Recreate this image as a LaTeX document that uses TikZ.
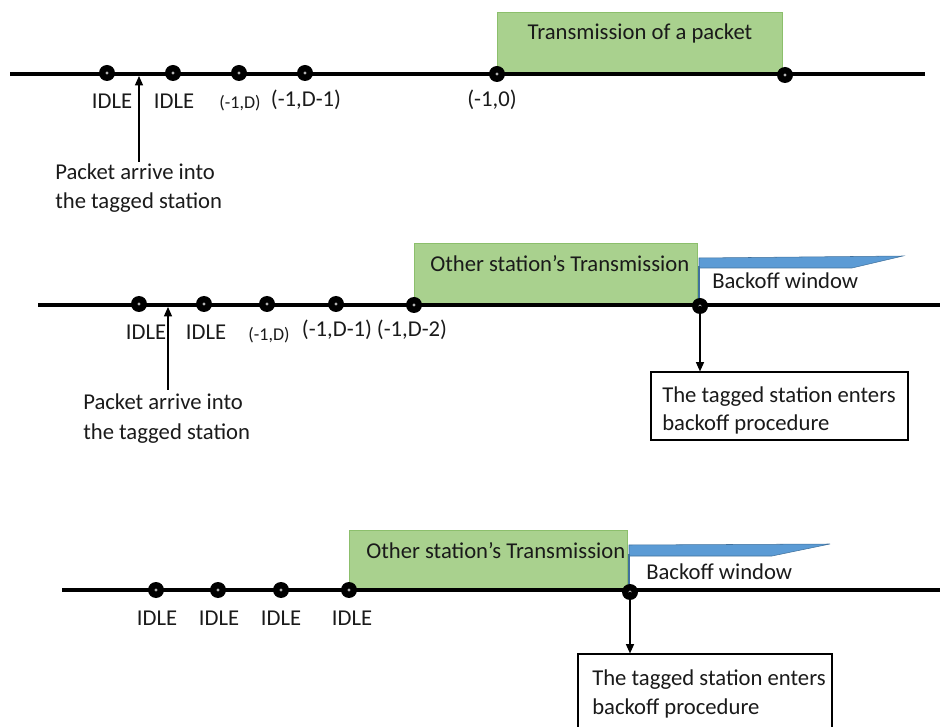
\documentclass[tikz,border=0pt]{standalone}
\usepackage{fontspec}
\setmainfont{Carlito}
\usetikzlibrary{fit,arrows.meta}
\definecolor{gfill}{HTML}{A9D18E}
\definecolor{gdraw}{HTML}{8CBF6C}
\definecolor{bfill}{HTML}{5B9BD5}
\definecolor{bdraw}{HTML}{41719C}
\definecolor{txt}{HTML}{1A1A1A}
\tikzset{
  timeline/.style={line width=3.4pt},
  dotmark/.style={circle, fill=black, minimum size=12pt, inner sep=0pt,
    path picture={\fill[gray!60] (path picture bounding box.center) circle (1.2pt);}},
  lbl/.style={anchor=base, font=\fontsize{17}{20}\selectfont, text=txt, inner sep=0pt},
  slbl/.style={anchor=base, font=\fontsize{13.5}{16}\selectfont, text=txt, inner sep=0pt},
  ltxt/.style={anchor=base west, font=\fontsize{17}{20}\selectfont, text=txt, inner sep=0pt},
  greenbox/.style={draw=gdraw, fill=gfill, line width=0.6pt, inner sep=0pt},
  wbox/.style={draw=black, line width=0.8pt, inner sep=0pt, fill=white},
  arr/.style={-{Triangle[length=7pt,width=6pt]}, line width=1pt},
  wedge/.style={fill=bfill, draw=bdraw, line width=0.4pt},
}
\begin{document}
\begin{tikzpicture}[x=0.75pt,y=-0.75pt]
\useasboundingbox (0,0) rectangle (940,727);
\clip (0,0) rectangle (940,727);

%% ---------------- Panel 1 ----------------
\node[greenbox, fit={(497,12) (782,73)}] (tx1) {};
\node[ltxt, anchor=base] (tx1t) at (640,40) {Transmission of a packet};
\draw[timeline] (10,74) -- (925,74);
\node[dotmark] (p1a) at (107,73) {};
\node[dotmark] (p1b) at (173,73) {};
\node[dotmark] (p1c) at (239,73) {};
\node[dotmark] (p1d) at (305,73) {};
\node[dotmark] (p1e) at (497,74) {};
\node[dotmark] (p1f) at (785,75) {};
\node[lbl] (l1a) at (112,109) {IDLE};
\node[lbl] (l1b) at (174,109) {IDLE};
\node[slbl] (l1c) at (240,109) {(-1,D)};
\node[lbl] (l1d) at (306,107) {(-1,D-1)};
\node[lbl] (l1e) at (492,107) {(-1,0)};
\coordinate (a1top) at (139,76);
\coordinate (a1bot) at (139,162);
\draw[arr] (a1bot) -- (a1top);
\node[ltxt] (pk1a) at (55,180) {Packet arrive into};
\node[ltxt] (pk1b) at (55,209) {the tagged station};

%% ---------------- Panel 2 ----------------
\node[greenbox, fit={(414,243) (697,304)}] (tx2) {};
\node[ltxt] (tx2t) at (430,272) {Other station’s Transmission};
\fill[wedge] (699,258) -- (903,256) -- (852,268) -- (699,268) -- cycle;
\draw[bdraw, line width=0.8pt] (699,266) -- (699,304);
\node[ltxt] (bw2) at (712,289) {Backoff window};
\draw[timeline] (38,305) -- (940,305);
\node[dotmark] (p2a) at (139,304) {};
\node[dotmark] (p2b) at (204,304) {};
\node[dotmark] (p2c) at (267,304) {};
\node[dotmark] (p2d) at (336,304) {};
\node[dotmark] (p2e) at (414,305) {};
\node[dotmark] (p2f) at (700,306) {};
\node[lbl] (l2a) at (146,340) {IDLE};
\node[lbl] (l2b) at (206,340) {IDLE};
\node[slbl] (l2c) at (269,341) {(-1,D)};
\node[lbl] (l2d) at (337,337) {(-1,D-1)};
\node[lbl] (l2e) at (412,337) {(-1,D-2)};
\coordinate (a2top) at (168,307);
\coordinate (a2bot) at (168,390);
\draw[arr] (a2bot) -- (a2top);
\node[ltxt] (pk2a) at (83,410) {Packet arrive into};
\node[ltxt] (pk2b) at (83,440) {the tagged station};
\node[wbox, fit={(651,372) (908,440)}] (box2) {};
\node[ltxt] (b2a) at (662,403) {The tagged station enters};
\node[ltxt] (b2b) at (662,431) {backoff procedure};
\draw[arr] (p2f.center) -- (p2f.center |- box2.north);

%% ---------------- Panel 3 ----------------
\node[greenbox, fit={(349,530) (627,590)}] (tx3) {};
\node[ltxt] (tx3t) at (366,558) {Other station’s Transmission};
\fill[wedge] (629,545) -- (830,544) -- (772,556) -- (629,556) -- cycle;
\draw[bdraw, line width=0.8pt] (629,554) -- (629,590);
\node[ltxt] (bw3) at (646,580) {Backoff window};
\draw[timeline] (62,590) -- (940,590);
\node[dotmark] (p3a) at (156,590) {};
\node[dotmark] (p3b) at (218,590) {};
\node[dotmark] (p3c) at (281,590) {};
\node[dotmark] (p3d) at (349,590) {};
\node[dotmark] (p3e) at (630,592) {};
\node[lbl] (l3a) at (157,625) {IDLE};
\node[lbl] (l3b) at (219,625) {IDLE};
\node[lbl] (l3c) at (281,625) {IDLE};
\node[lbl] (l3d) at (352,625) {IDLE};
\node[wbox, fit={(578,654) (832,740)}] (box3) {};
\node[ltxt] (b3a) at (592,685) {The tagged station enters};
\node[ltxt] (b3b) at (592,714) {backoff procedure};
\draw[arr] (p3e.center) -- (p3e.center |- box3.north);
\end{tikzpicture}
\end{document}
